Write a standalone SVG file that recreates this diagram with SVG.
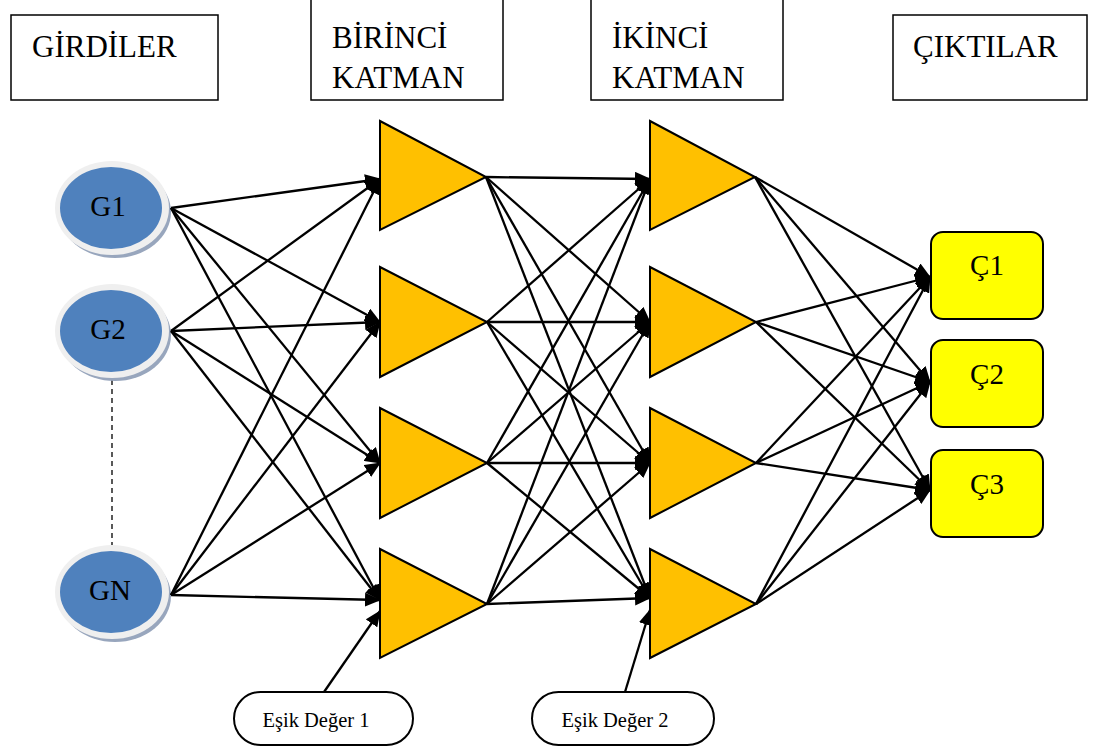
<svg xmlns="http://www.w3.org/2000/svg" width="1102" height="753" viewBox="0 0 1102 753">
<defs>
<marker id="ah" markerUnits="userSpaceOnUse" markerWidth="16" markerHeight="14" viewBox="0 0 16 14" refX="15" refY="7" orient="auto">
<path d="M0,0 L16,7 L0,14 z" fill="#000"/>
</marker>
</defs>
<style>
.box{fill:#fff;stroke:#000;stroke-width:1.5}
text{font-family:"Liberation Serif","Times New Roman","DejaVu Serif",serif;fill:#000}
.hdr{font-size:31px}
.shadow{fill:#98a6bd}
.ring{fill:#efefef}
.inp{fill:#4f81bd}
.lbl{font-size:29px;text-anchor:middle}
.tri{fill:#ffc000;stroke:#000;stroke-width:2}
.out{fill:#ffff00;stroke:#000;stroke-width:2}
.thr{fill:#fff;stroke:#000;stroke-width:2}
.small{font-size:20.5px;text-anchor:middle}
.c line{stroke:#000;stroke-width:2.3;marker-end:url(#ah)}
.dash{stroke:#000;stroke-width:1.3;stroke-dasharray:5,4}
</style>

<g id="hdr-girdiler">
<rect class="box" x="11" y="15" width="207" height="85"/>
<text class="hdr" x="32" y="57" font-family="Liberation Serif, serif">GİRDİLER</text>
</g>
<g id="hdr-birinci">
<rect class="box" x="311" y="-2" width="192" height="102"/>
<text class="hdr" x="332" y="48" font-family="Liberation Serif, serif">BİRİNCİ</text>
<text class="hdr" x="332" y="88" font-family="Liberation Serif, serif">KATMAN</text>
</g>
<g id="hdr-ikinci">
<rect class="box" x="591" y="-2" width="192" height="102"/>
<text class="hdr" x="612" y="48" font-family="Liberation Serif, serif">İKİNCİ</text>
<text class="hdr" x="612" y="88" font-family="Liberation Serif, serif">KATMAN</text>
</g>
<g id="hdr-ciktilar">
<rect class="box" x="893" y="15" width="194" height="85"/>
<text class="hdr" x="913" y="57" font-family="Liberation Serif, serif">ÇIKTILAR</text>
</g>

<line class="dash" x1="112" y1="380" x2="112" y2="546"/>

<g id="G1">
<ellipse class="shadow" cx="115" cy="212" rx="56" ry="46"/>
<ellipse class="ring" cx="112" cy="208" rx="57" ry="47"/>
<ellipse class="inp" cx="111" cy="208" rx="51" ry="41"/>
<text class="lbl" x="108" y="216" font-family="Liberation Serif, serif">G1</text>
</g>
<g id="G2">
<ellipse class="shadow" cx="115" cy="335" rx="56" ry="46"/>
<ellipse class="ring" cx="112" cy="331" rx="57" ry="47"/>
<ellipse class="inp" cx="111" cy="331" rx="51" ry="41"/>
<text class="lbl" x="108" y="339" font-family="Liberation Serif, serif">G2</text>
</g>
<g id="GN">
<ellipse class="shadow" cx="115" cy="596" rx="56" ry="46"/>
<ellipse class="ring" cx="112" cy="592" rx="57" ry="47"/>
<ellipse class="inp" cx="111" cy="592" rx="51" ry="41"/>
<text class="lbl" x="110" y="600" font-family="Liberation Serif, serif">GN</text>
</g>

<g id="connectors" class="c">
<line x1="171" y1="208" x2="380" y2="179"/>
<line x1="171" y1="208" x2="380" y2="322"/>
<line x1="171" y1="208" x2="380" y2="463"/>
<line x1="171" y1="208" x2="380" y2="600"/>
<line x1="171" y1="331" x2="380" y2="179"/>
<line x1="171" y1="331" x2="380" y2="322"/>
<line x1="171" y1="331" x2="380" y2="463"/>
<line x1="171" y1="331" x2="380" y2="600"/>
<line x1="171" y1="595" x2="380" y2="179"/>
<line x1="171" y1="595" x2="380" y2="322"/>
<line x1="171" y1="595" x2="380" y2="463"/>
<line x1="171" y1="595" x2="380" y2="600"/>
<line x1="486" y1="177" x2="650" y2="179"/>
<line x1="486" y1="177" x2="650" y2="322"/>
<line x1="486" y1="177" x2="650" y2="463"/>
<line x1="486" y1="177" x2="650" y2="598"/>
<line x1="487" y1="322" x2="650" y2="179"/>
<line x1="487" y1="322" x2="650" y2="322"/>
<line x1="487" y1="322" x2="650" y2="463"/>
<line x1="487" y1="322" x2="650" y2="598"/>
<line x1="487" y1="463" x2="650" y2="179"/>
<line x1="487" y1="463" x2="650" y2="322"/>
<line x1="487" y1="463" x2="650" y2="463"/>
<line x1="487" y1="463" x2="650" y2="598"/>
<line x1="487" y1="604" x2="650" y2="179"/>
<line x1="487" y1="604" x2="650" y2="322"/>
<line x1="487" y1="604" x2="650" y2="463"/>
<line x1="487" y1="604" x2="650" y2="598"/>
<line x1="755" y1="177" x2="930" y2="277"/>
<line x1="755" y1="177" x2="930" y2="382"/>
<line x1="755" y1="177" x2="930" y2="490"/>
<line x1="756" y1="322" x2="930" y2="277"/>
<line x1="756" y1="322" x2="930" y2="382"/>
<line x1="756" y1="322" x2="930" y2="490"/>
<line x1="756" y1="463" x2="930" y2="277"/>
<line x1="756" y1="463" x2="930" y2="382"/>
<line x1="756" y1="463" x2="930" y2="490"/>
<line x1="756" y1="604" x2="930" y2="277"/>
<line x1="756" y1="604" x2="930" y2="382"/>
<line x1="756" y1="604" x2="930" y2="490"/>
<line x1="324" y1="692" x2="380" y2="611"/>
<line x1="625" y1="692" x2="650" y2="610"/>
</g>

<g id="L1-1"><polygon class="tri" points="380,121 486,177 380,230"/></g>
<g id="L1-2"><polygon class="tri" points="380,267 487,322 380,377"/></g>
<g id="L1-3"><polygon class="tri" points="380,408 487,463 380,518"/></g>
<g id="L1-4"><polygon class="tri" points="380,549 487,604 380,658"/></g>
<g id="L2-1"><polygon class="tri" points="650,121 755,177 650,230"/></g>
<g id="L2-2"><polygon class="tri" points="650,267 756,322 650,377"/></g>
<g id="L2-3"><polygon class="tri" points="650,408 756,463 650,518"/></g>
<g id="L2-4"><polygon class="tri" points="650,549 756,604 650,658"/></g>

<g id="C1">
<rect class="out" x="931" y="232" width="112" height="87" rx="12"/>
<text class="lbl" x="987" y="275" font-family="Liberation Serif, serif">Ç1</text>
</g>
<g id="C2">
<rect class="out" x="931" y="340" width="112" height="87" rx="12"/>
<text class="lbl" x="987" y="384" font-family="Liberation Serif, serif">Ç2</text>
</g>
<g id="C3">
<rect class="out" x="931" y="450" width="112" height="87" rx="12"/>
<text class="lbl" x="987" y="494" font-family="Liberation Serif, serif">Ç3</text>
</g>

<g id="esik1">
<rect class="thr" x="234" y="692" width="179" height="53" rx="26.5"/>
<text class="small" x="316" y="727" font-family="Liberation Serif, serif">Eşik Değer 1</text>
</g>
<g id="esik2">
<rect class="thr" x="532" y="692" width="182" height="53" rx="26.5"/>
<text class="small" x="615" y="727" font-family="Liberation Serif, serif">Eşik Değer 2</text>
</g>
</svg>
